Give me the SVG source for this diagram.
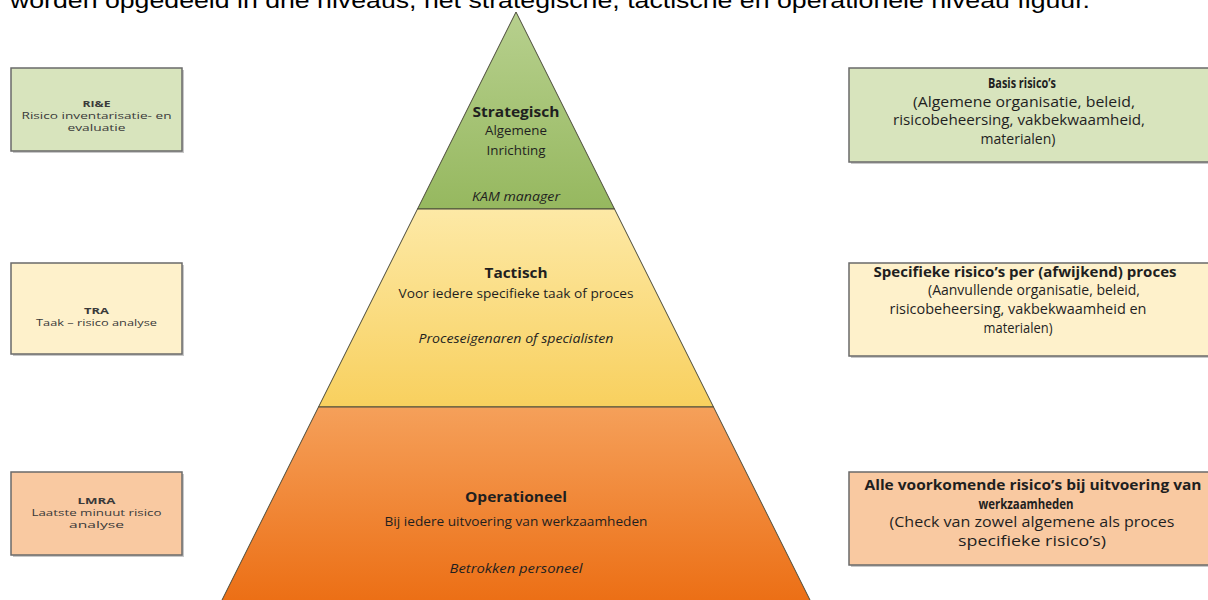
<svg xmlns="http://www.w3.org/2000/svg" width="1208" height="600" viewBox="0 0 1208 600">
  <defs>
    <linearGradient id="gGreen" x1="0" y1="0" x2="0" y2="1">
      <stop offset="0" stop-color="#b7d08e"/>
      <stop offset="1" stop-color="#96b85f"/>
    </linearGradient>
    <linearGradient id="gYellow" x1="0" y1="0" x2="0" y2="1">
      <stop offset="0" stop-color="#fde9a6"/>
      <stop offset="1" stop-color="#f8d05e"/>
    </linearGradient>
    <linearGradient id="gOrange" x1="0" y1="0" x2="0" y2="1">
      <stop offset="0" stop-color="#f5a05a"/>
      <stop offset="1" stop-color="#ec6f15"/>
    </linearGradient>
    <style>
      text { font-family: "Open Sans", "Liberation Sans", sans-serif; fill: #1f1f1f; text-anchor: middle; }
      .hdr { font-family: "Liberation Sans", Arial, sans-serif; font-size: 22px; text-anchor: start; fill: #000; }
      .lvl { stroke: #4a4a3a; stroke-width: 1; }
      .b { font-weight: bold; }
      .i { font-style: italic; }
      .t16 { font-size: 15px; }
      .t13 { font-size: 12.5px; }
      .t14 { font-size: 14px; }
      .t10 { font-size: 9px; fill: #3a3a3a; }
      .shadow { fill: #9a9a9a; opacity: 0.55; }
      .box { stroke: #6a6a6a; stroke-width: 1.5; }
      .green { fill: #d8e4bd; }
      .yellow { fill: #fef1cb; }
      .orange { fill: #f9c9a1; }
    </style>
  </defs>

  <rect width="1208" height="600" fill="#ffffff"/>

  <!-- running text line above the figure, partly cut by the top edge -->
  <text class="hdr" x="10" y="8" textLength="1080" lengthAdjust="spacingAndGlyphs">worden opgedeeld in drie niveaus, het strategische, tactische en operationele niveau figuur.</text>

  <!-- pyramid levels -->
  <g id="level-strategisch">
    <polygon class="lvl" points="516,12 614.5,209 417.5,209" fill="url(#gGreen)"/>
    <text class="b t16" x="516" y="117" textLength="87" lengthAdjust="spacingAndGlyphs">Strategisch</text>
    <text class="t13" x="516" y="135" textLength="62" lengthAdjust="spacingAndGlyphs">Algemene</text>
    <text class="t13" x="516" y="155" textLength="59" lengthAdjust="spacingAndGlyphs">Inrichting</text>
    <text class="i t13" x="516" y="201" textLength="88" lengthAdjust="spacingAndGlyphs">KAM manager</text>
  </g>

  <g id="level-tactisch">
    <polygon class="lvl" points="417.5,209 614.5,209 713.5,407 318.5,407" fill="url(#gYellow)"/>
    <text class="b t16" x="516" y="278" textLength="63" lengthAdjust="spacingAndGlyphs">Tactisch</text>
    <text class="t13" x="516" y="298" textLength="235" lengthAdjust="spacingAndGlyphs">Voor iedere specifieke taak of proces</text>
    <text class="i t13" x="516" y="343" textLength="195" lengthAdjust="spacingAndGlyphs">Proceseigenaren of specialisten</text>
  </g>

  <g id="level-operationeel">
    <polygon class="lvl" points="318.5,407 713.5,407 810.5,601 221.5,601" fill="url(#gOrange)"/>
    <text class="b t16" x="516" y="502" textLength="102" lengthAdjust="spacingAndGlyphs">Operationeel</text>
    <text class="t13" x="516" y="526" textLength="263" lengthAdjust="spacingAndGlyphs">Bij iedere uitvoering van werkzaamheden</text>
    <text class="i t13" x="516" y="573" textLength="133" lengthAdjust="spacingAndGlyphs">Betrokken personeel</text>
  </g>

  <!-- left column: assessment methods -->
  <g id="box-rie">
    <rect class="shadow" x="13" y="70" width="171" height="83"/>
    <rect class="box green" x="11" y="68" width="171" height="83"/>
    <text class="b t10" x="96.5" y="107" textLength="28" lengthAdjust="spacingAndGlyphs">RI&amp;E</text>
    <text class="t10" x="96.5" y="119" textLength="150" lengthAdjust="spacingAndGlyphs">Risico inventarisatie- en</text>
    <text class="t10" x="96.5" y="131" textLength="58" lengthAdjust="spacingAndGlyphs">evaluatie</text>
  </g>

  <g id="box-tra">
    <rect class="shadow" x="13" y="265" width="171" height="91"/>
    <rect class="box yellow" x="11" y="263" width="171" height="91"/>
    <text class="b t10" x="96.5" y="314" textLength="25" lengthAdjust="spacingAndGlyphs">TRA</text>
    <text class="t10" x="96.5" y="326" textLength="121" lengthAdjust="spacingAndGlyphs">Taak – risico analyse</text>
  </g>

  <g id="box-lmra">
    <rect class="shadow" x="13" y="474" width="171" height="83"/>
    <rect class="box orange" x="11" y="472" width="171" height="83"/>
    <text class="b t10" x="96.5" y="504" textLength="38" lengthAdjust="spacingAndGlyphs">LMRA</text>
    <text class="t10" x="96.5" y="516" textLength="130" lengthAdjust="spacingAndGlyphs">Laatste minuut risico</text>
    <text class="t10" x="96.5" y="528" textLength="55" lengthAdjust="spacingAndGlyphs">analyse</text>
  </g>

  <!-- right column: risk descriptions -->
  <g id="box-basis">
    <rect class="shadow" x="851" y="70" width="370" height="94"/>
    <rect class="box green" x="849" y="68" width="370" height="94"/>
    <text class="b t14" x="1022" y="88" textLength="68" lengthAdjust="spacingAndGlyphs">Basis risico’s</text>
    <text class="t14" x="1024" y="107" textLength="222" lengthAdjust="spacingAndGlyphs">(Algemene organisatie, beleid,</text>
    <text class="t14" x="1019" y="125" textLength="252" lengthAdjust="spacingAndGlyphs">risicobeheersing, vakbekwaamheid,</text>
    <text class="t14" x="1018" y="144" textLength="75" lengthAdjust="spacingAndGlyphs">materialen)</text>
  </g>

  <g id="box-specifiek">
    <rect class="shadow" x="851" y="265" width="370" height="93"/>
    <rect class="box yellow" x="849" y="263" width="370" height="93"/>
    <text class="b t14" x="1025" y="277" textLength="303" lengthAdjust="spacingAndGlyphs">Specifieke risico’s per (afwijkend) proces</text>
    <text class="t14" x="1034" y="295" textLength="212" lengthAdjust="spacingAndGlyphs">(Aanvullende organisatie, beleid,</text>
    <text class="t14" x="1018" y="314" textLength="257" lengthAdjust="spacingAndGlyphs">risicobeheersing, vakbekwaamheid en</text>
    <text class="t14" x="1018" y="333" textLength="69" lengthAdjust="spacingAndGlyphs">materialen)</text>
  </g>

  <g id="box-alle">
    <rect class="shadow" x="851" y="474" width="370" height="93"/>
    <rect class="box orange" x="849" y="472" width="370" height="93"/>
    <text class="b t14" x="1033" y="490" textLength="337" lengthAdjust="spacingAndGlyphs">Alle voorkomende risico’s bij uitvoering van</text>
    <text class="b t14" x="1026" y="509" textLength="95" lengthAdjust="spacingAndGlyphs">werkzaamheden</text>
    <text class="t14" x="1032" y="527" textLength="285" lengthAdjust="spacingAndGlyphs">(Check van zowel algemene als proces</text>
    <text class="t14" x="1032" y="546" textLength="148" lengthAdjust="spacingAndGlyphs">specifieke risico’s)</text>
  </g>
</svg>
